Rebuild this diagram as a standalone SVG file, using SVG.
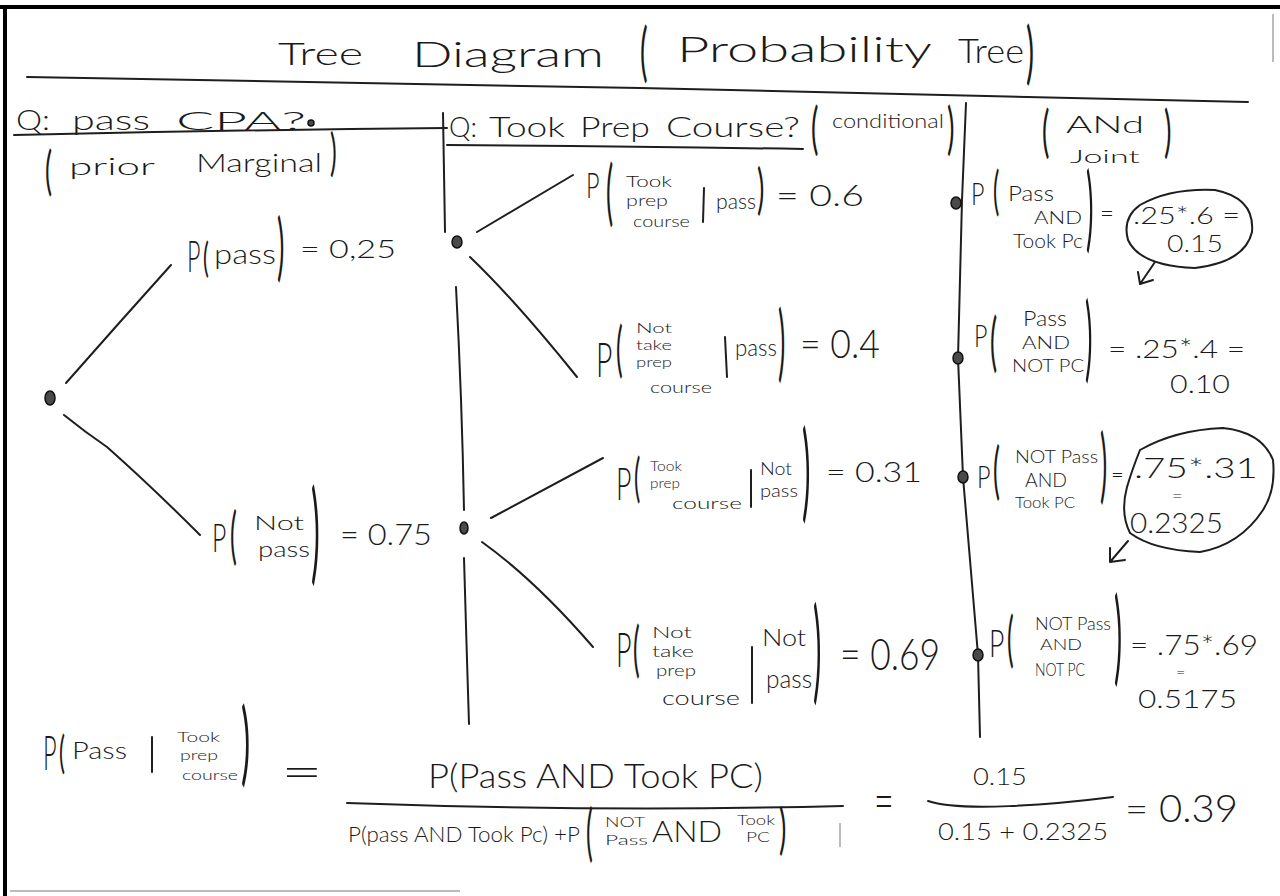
<svg xmlns="http://www.w3.org/2000/svg" width="1280" height="896" viewBox="0 0 1280 896">
<style>
text{font-family:Lato,"Liberation Sans","DejaVu Sans",sans-serif;font-weight:300;fill:#1a1a1a;}
.br{font-family:Lato,"Liberation Sans",sans-serif;font-weight:400;}
.ln{fill:none;stroke:#1e1e1e;stroke-width:2;stroke-linecap:round;stroke-linejoin:round;}
.dot{fill:#4a4a4a;stroke:#111;stroke-width:1.5;}
.frame{stroke:#000;stroke-width:4;}
.faint{stroke:#bbb;stroke-width:2;}
</style>
<rect width="1280" height="896" fill="#fff"/>
<g id="frame">
<line class="frame" x1="0" y1="7" x2="1280" y2="7"/>
<line class="frame" x1="5" y1="5" x2="5" y2="896"/>
<line class="faint" x1="1273" y1="14" x2="1273" y2="62"/>
<line class="faint" x1="10" y1="891" x2="460" y2="891"/>
</g>
<g id="title">
<text x="278" y="65" font-size="32" textLength="85" lengthAdjust="spacingAndGlyphs">Tree</text>
<text x="412" y="67" font-size="36" textLength="192" lengthAdjust="spacingAndGlyphs">Diagram</text>
<text class="br" transform="translate(640,74) scale(0.45,1)" font-size="64">(</text>
<text x="677" y="62" font-size="36" textLength="255" lengthAdjust="spacingAndGlyphs">Probability</text>
<text x="958" y="63" font-size="34" textLength="66" lengthAdjust="spacingAndGlyphs">Tree</text>
<text class="br" transform="translate(1026,76) scale(0.45,1)" font-size="67">)</text>
<path class="ln" d="M27,77 Q330,82 640,88 T1248,102"/>
</g>
<g id="header-prior">
<text x="16" y="130" font-size="28" textLength="34" lengthAdjust="spacingAndGlyphs">Q:</text>
<text x="72" y="130" font-size="28" textLength="78" lengthAdjust="spacingAndGlyphs">pass</text>
<text x="176" y="130" font-size="25" textLength="130" lengthAdjust="spacingAndGlyphs">CPA?</text>
<path class="ln" d="M14,135 Q230,130 447,128"/>
<ellipse class="dot" cx="311" cy="123" rx="3" ry="3"/>
<text class="br" transform="translate(45,189) scale(0.5,1)" font-size="53">(</text>
<text x="69" y="175" font-size="24" textLength="86" lengthAdjust="spacingAndGlyphs">prior</text>
<text x="196" y="172" font-size="26" textLength="126" lengthAdjust="spacingAndGlyphs">Marginal</text>
<text class="br" transform="translate(330,170) scale(0.5,1)" font-size="50">)</text>
</g>
<g id="header-conditional">
<text x="449" y="137" font-size="27" textLength="28" lengthAdjust="spacingAndGlyphs">Q:</text>
<text x="489" y="137" font-size="27" textLength="76" lengthAdjust="spacingAndGlyphs">Took</text>
<text x="580" y="137" font-size="27" textLength="70" lengthAdjust="spacingAndGlyphs">Prep</text>
<text x="666" y="137" font-size="27" textLength="134" lengthAdjust="spacingAndGlyphs">Course?</text>
<path class="ln" d="M447,145 Q620,146 803,149"/>
<text class="br" transform="translate(811,148) scale(0.5,1)" font-size="56">(</text>
<text x="832" y="128" font-size="20" textLength="112" lengthAdjust="spacingAndGlyphs">conditional</text>
<text class="br" transform="translate(947,148) scale(0.5,1)" font-size="56">)</text>
</g>
<g id="header-joint">
<text class="br" transform="translate(1042,151) scale(0.9,1.8)" font-size="31">(</text>
<text x="1066" y="133" font-size="23" textLength="78" lengthAdjust="spacingAndGlyphs">ANd</text>
<text x="1070" y="163" font-size="18" textLength="70" lengthAdjust="spacingAndGlyphs">Joint</text>
<text class="br" transform="translate(1164,151) scale(0.9,1.8)" font-size="31">)</text>
</g>
<g id="dividers">
<path class="ln" d="M443,113 L445,232"/>
<path class="ln" d="M456,287 Q462,400 464,510"/>
<path class="ln" d="M464,558 L467,660 L469,724"/>
<path class="ln" d="M966,103 L962,200 L958,358 L963,477 L970,560 L978,655 L980,737"/>
</g>
<g id="connectors">
<path class="ln" d="M66,383 L120,322 L171,265"/>
<path class="ln" d="M64,415 Q85,432 107,447 Q150,485 200,535"/>
<path class="ln" d="M477,232 L573,175"/>
<path class="ln" d="M470,257 Q515,300 577,377"/>
<path class="ln" d="M491,518 L603,458"/>
<path class="ln" d="M482,542 Q535,580 593,647"/>
</g>
<g id="node-root"><ellipse class="dot" cx="50" cy="398" rx="5" ry="7"/></g>
<g id="node-pass"><ellipse class="dot" cx="457" cy="242" rx="5" ry="6"/></g>
<g id="node-notpass"><ellipse class="dot" cx="464" cy="528" rx="4" ry="6"/></g>
<g id="node-j1"><ellipse class="dot" cx="956" cy="203" rx="5" ry="6"/></g>
<g id="node-j2"><ellipse class="dot" cx="958" cy="358" rx="5" ry="6"/></g>
<g id="node-j3"><ellipse class="dot" cx="963" cy="477" rx="5" ry="6"/></g>
<g id="node-j4"><ellipse class="dot" cx="978" cy="655" rx="5" ry="6"/></g>
<g id="label-pass">
<text transform="translate(187,272) scale(0.53,1)" font-size="44">P</text>
<text class="br" transform="translate(203,272) scale(0.55,1)" font-size="40">(</text>
<text x="214" y="264" font-size="28" textLength="62" lengthAdjust="spacingAndGlyphs">pass</text>
<text class="br" transform="translate(277,272) scale(0.38,1)" font-size="73">)</text>
<text x="300" y="258" font-size="26" textLength="96" lengthAdjust="spacingAndGlyphs">= 0,25</text>
</g>
<g id="label-notpass">
<text transform="translate(212,552) scale(0.62,1)" font-size="40">P</text>
<text class="br" transform="translate(230,557) scale(0.42,1)" font-size="61">(</text>
<text x="254" y="530" font-size="20" textLength="50" lengthAdjust="spacingAndGlyphs">Not</text>
<text x="258" y="557" font-size="22" textLength="52" lengthAdjust="spacingAndGlyphs">pass</text>
<text class="br" transform="translate(311,570) scale(0.3,1)" font-size="110">)</text>
<text x="340" y="545" font-size="30" textLength="92" lengthAdjust="spacingAndGlyphs">= 0.75</text>
</g>
<g id="label-took-pass">
<text transform="translate(586,198) scale(0.65,1)" font-size="36">P</text>
<text class="br" transform="translate(606,217) scale(0.38,1)" font-size="71">(</text>
<text x="626" y="187" font-size="15" textLength="46" lengthAdjust="spacingAndGlyphs">Took</text>
<text x="626" y="206" font-size="15" textLength="42" lengthAdjust="spacingAndGlyphs">prep</text>
<text x="633" y="227" font-size="15" textLength="57" lengthAdjust="spacingAndGlyphs">course</text>
<line class="ln" x1="704" y1="188" x2="703" y2="222"/>
<text x="716" y="209" font-size="22" textLength="40" lengthAdjust="spacingAndGlyphs">pass</text>
<text class="br" transform="translate(757,208) scale(0.5,1)" font-size="55">)</text>
<text x="776" y="206" font-size="30" textLength="88" lengthAdjust="spacingAndGlyphs">= 0.6</text>
</g>
<g id="label-nottake-pass">
<text transform="translate(596,377) scale(0.59,1)" font-size="48">P</text>
<text class="br" transform="translate(616,370) scale(0.42,1)" font-size="60">(</text>
<text x="636" y="333" font-size="13" textLength="36" lengthAdjust="spacingAndGlyphs">Not</text>
<text x="636" y="350" font-size="13" textLength="36" lengthAdjust="spacingAndGlyphs">take</text>
<text x="636" y="367" font-size="13" textLength="36" lengthAdjust="spacingAndGlyphs">prep</text>
<text x="650" y="393" font-size="16" textLength="62" lengthAdjust="spacingAndGlyphs">course</text>
<line class="ln" x1="725" y1="337" x2="727" y2="377"/>
<text x="735" y="356" font-size="24" textLength="42" lengthAdjust="spacingAndGlyphs">pass</text>
<text class="br" transform="translate(778,371) scale(0.33,1)" font-size="83">)</text>
<text x="800" y="358" font-size="40" textLength="80" lengthAdjust="spacingAndGlyphs">= 0.4</text>
</g>
<g id="label-took-notpass">
<text transform="translate(616,500) scale(0.58,1)" font-size="46">P</text>
<text class="br" transform="translate(634,496) scale(0.45,1)" font-size="53">(</text>
<text x="650" y="471" font-size="14" textLength="32" lengthAdjust="spacingAndGlyphs">Took</text>
<text x="650" y="488" font-size="14" textLength="30" lengthAdjust="spacingAndGlyphs">prep</text>
<text x="672" y="509" font-size="16" textLength="70" lengthAdjust="spacingAndGlyphs">course</text>
<line class="ln" x1="751" y1="470" x2="751" y2="507"/>
<text x="760" y="475" font-size="17" textLength="32" lengthAdjust="spacingAndGlyphs">Not</text>
<text x="760" y="497" font-size="18" textLength="38" lengthAdjust="spacingAndGlyphs">pass</text>
<text class="br" transform="translate(802,508) scale(0.3,1)" font-size="106">)</text>
<text x="826" y="482" font-size="28" textLength="96" lengthAdjust="spacingAndGlyphs">= 0.31</text>
</g>
<g id="label-nottake-notpass">
<text transform="translate(616,667) scale(0.57,1)" font-size="47">P</text>
<text class="br" transform="translate(633,670) scale(0.42,1)" font-size="60">(</text>
<text x="652" y="638" font-size="15" textLength="40" lengthAdjust="spacingAndGlyphs">Not</text>
<text x="652" y="657" font-size="15" textLength="42" lengthAdjust="spacingAndGlyphs">take</text>
<text x="656" y="676" font-size="15" textLength="40" lengthAdjust="spacingAndGlyphs">prep</text>
<text x="662" y="705" font-size="19" textLength="78" lengthAdjust="spacingAndGlyphs">course</text>
<line class="ln" x1="752" y1="647" x2="752" y2="703"/>
<text x="762" y="646" font-size="23" textLength="44" lengthAdjust="spacingAndGlyphs">Not</text>
<text x="766" y="688" font-size="25" textLength="46" lengthAdjust="spacingAndGlyphs">pass</text>
<text class="br" transform="translate(813,689) scale(0.28,1)" font-size="113">)</text>
<text x="840" y="670" font-size="44" textLength="100" lengthAdjust="spacingAndGlyphs">= 0.69</text>
</g>
<g id="joint-1">
<text transform="translate(971,205) scale(0.75,1)" font-size="31">P</text>
<text class="br" transform="translate(993,209) scale(0.45,1)" font-size="53">(</text>
<text x="1008" y="201" font-size="21" textLength="46" lengthAdjust="spacingAndGlyphs">Pass</text>
<text x="1034" y="224" font-size="18" textLength="48" lengthAdjust="spacingAndGlyphs">AND</text>
<text x="1013" y="248" font-size="19" textLength="70" lengthAdjust="spacingAndGlyphs">Took Pc</text>
<text class="br" transform="translate(1086,240) scale(0.3,1)" font-size="94">)</text>
<text x="1100" y="222" font-size="24">=</text>
<path class="ln" d="M1140,205 Q1170,188 1215,190 Q1255,198 1252,232 Q1245,262 1195,268 Q1140,266 1128,240 Q1122,218 1140,205 Z"/>
<text x="1133" y="224" font-size="24" textLength="107" lengthAdjust="spacingAndGlyphs">.25*.6 =</text>
<text x="1167" y="252" font-size="23" textLength="56" lengthAdjust="spacingAndGlyphs">0.15</text>
<path class="ln" d="M1155,262 L1140,284 M1138,272 L1140,284 L1153,280"/>
</g>
<g id="joint-2">
<text transform="translate(974,347) scale(0.75,1)" font-size="31">P</text>
<text class="br" transform="translate(990,364) scale(0.42,1)" font-size="64">(</text>
<text x="1023" y="326" font-size="22" textLength="44" lengthAdjust="spacingAndGlyphs">Pass</text>
<text x="1022" y="349" font-size="18" textLength="48" lengthAdjust="spacingAndGlyphs">AND</text>
<text x="1012" y="372" font-size="18" textLength="72" lengthAdjust="spacingAndGlyphs">NOT PC</text>
<text class="br" transform="translate(1085,370) scale(0.3,1)" font-size="94">)</text>
<text x="1108" y="358" font-size="26" textLength="137" lengthAdjust="spacingAndGlyphs">= .25*.4 =</text>
<text x="1170" y="393" font-size="26" textLength="60" lengthAdjust="spacingAndGlyphs">0.10</text>
</g>
<g id="joint-3">
<text transform="translate(977,488) scale(0.73,1)" font-size="32">P</text>
<text class="br" transform="translate(993,492) scale(0.42,1)" font-size="62">(</text>
<text x="1015" y="463" font-size="17" textLength="83" lengthAdjust="spacingAndGlyphs">NOT Pass</text>
<text x="1025" y="487" font-size="20" textLength="42" lengthAdjust="spacingAndGlyphs">AND</text>
<text x="1015" y="508" font-size="16" textLength="60" lengthAdjust="spacingAndGlyphs">Took PC</text>
<text class="br" transform="translate(1100,493) scale(0.33,1)" font-size="82">)</text>
<text x="1111" y="482" font-size="22">=</text>
<path class="ln" d="M1140,450 Q1175,430 1223,428 Q1262,432 1273,460 Q1276,490 1263,510 Q1240,545 1200,552 Q1153,550 1130,533 Q1120,513 1127,487 Q1132,470 1140,450"/>
<text x="1134" y="478" font-size="28" textLength="124" lengthAdjust="spacingAndGlyphs">.75*.31</text>
<text x="1172" y="502" font-size="18">=</text>
<text x="1130" y="533" font-size="28" textLength="93" lengthAdjust="spacingAndGlyphs">0.2325</text>
<path class="ln" d="M1128,541 L1110,562 M1110,548 L1110,562 L1125,560"/>
</g>
<g id="joint-4">
<text transform="translate(989,657) scale(0.7,1)" font-size="38">P</text>
<text class="br" transform="translate(1007,660) scale(0.42,1)" font-size="60">(</text>
<text x="1035" y="630" font-size="17" textLength="76" lengthAdjust="spacingAndGlyphs">NOT Pass</text>
<text x="1040" y="650" font-size="16" textLength="42" lengthAdjust="spacingAndGlyphs">AND</text>
<text x="1035" y="676" font-size="17" textLength="50" lengthAdjust="spacingAndGlyphs">NOT PC</text>
<text class="br" transform="translate(1114,672) scale(0.3,1)" font-size="102">)</text>
<text x="1130" y="655" font-size="28" textLength="128" lengthAdjust="spacingAndGlyphs">= .75*.69</text>
<text x="1176" y="678" font-size="16">=</text>
<text x="1138" y="708" font-size="26" textLength="99" lengthAdjust="spacingAndGlyphs">0.5175</text>
</g>
<g id="formula">
<text transform="translate(43,770) scale(0.49,1)" font-size="48">P</text>
<text class="br" transform="translate(59,768) scale(0.5,1)" font-size="45">(</text>
<text x="72" y="759" font-size="24" textLength="55" lengthAdjust="spacingAndGlyphs">Pass</text>
<line class="ln" x1="152" y1="737" x2="152" y2="772"/>
<text x="177" y="742" font-size="14" textLength="43" lengthAdjust="spacingAndGlyphs">Took</text>
<text x="180" y="760" font-size="14" textLength="38" lengthAdjust="spacingAndGlyphs">prep</text>
<text x="182" y="780" font-size="14" textLength="56" lengthAdjust="spacingAndGlyphs">course</text>
<text class="br" transform="translate(241,774) scale(0.38,1)" font-size="91">)</text>
<text transform="translate(281,788) scale(1.5,1)" font-size="48">=</text>
<text x="428" y="788" font-size="34" textLength="335" lengthAdjust="spacingAndGlyphs">P(Pass AND Took PC)</text>
<path class="ln" d="M347,803 Q600,812 843,806"/>
<text x="348" y="842" font-size="22" textLength="232" lengthAdjust="spacingAndGlyphs">P(pass AND Took Pc) +P</text>
<text class="br" transform="translate(586,854) scale(0.42,1)" font-size="61">(</text>
<text x="605" y="827" font-size="14" textLength="40" lengthAdjust="spacingAndGlyphs">NOT</text>
<text x="605" y="845" font-size="14" textLength="43" lengthAdjust="spacingAndGlyphs">Pass</text>
<text x="652" y="842" font-size="30" font-weight="bold" textLength="70" lengthAdjust="spacingAndGlyphs">AND</text>
<text x="737" y="825" font-size="13" textLength="38" lengthAdjust="spacingAndGlyphs">Took</text>
<text x="746" y="842" font-size="14" textLength="24" lengthAdjust="spacingAndGlyphs">PC</text>
<text class="br" transform="translate(779,848) scale(0.5,1)" font-size="55">)</text>
<line class="faint" x1="840" y1="823" x2="840" y2="847"/>
<text transform="translate(874,820) scale(1,1.6)" font-size="34">=</text>
<text x="973" y="785" font-size="24" textLength="54" lengthAdjust="spacingAndGlyphs">0.15</text>
<path class="ln" d="M928,801 C960,812 1050,805 1113,797"/>
<text x="938" y="840" font-size="24" textLength="170" lengthAdjust="spacingAndGlyphs">0.15 + 0.2325</text>
<text x="1125" y="822" font-size="38" textLength="113" lengthAdjust="spacingAndGlyphs">= 0.39</text>
</g>
</svg>
